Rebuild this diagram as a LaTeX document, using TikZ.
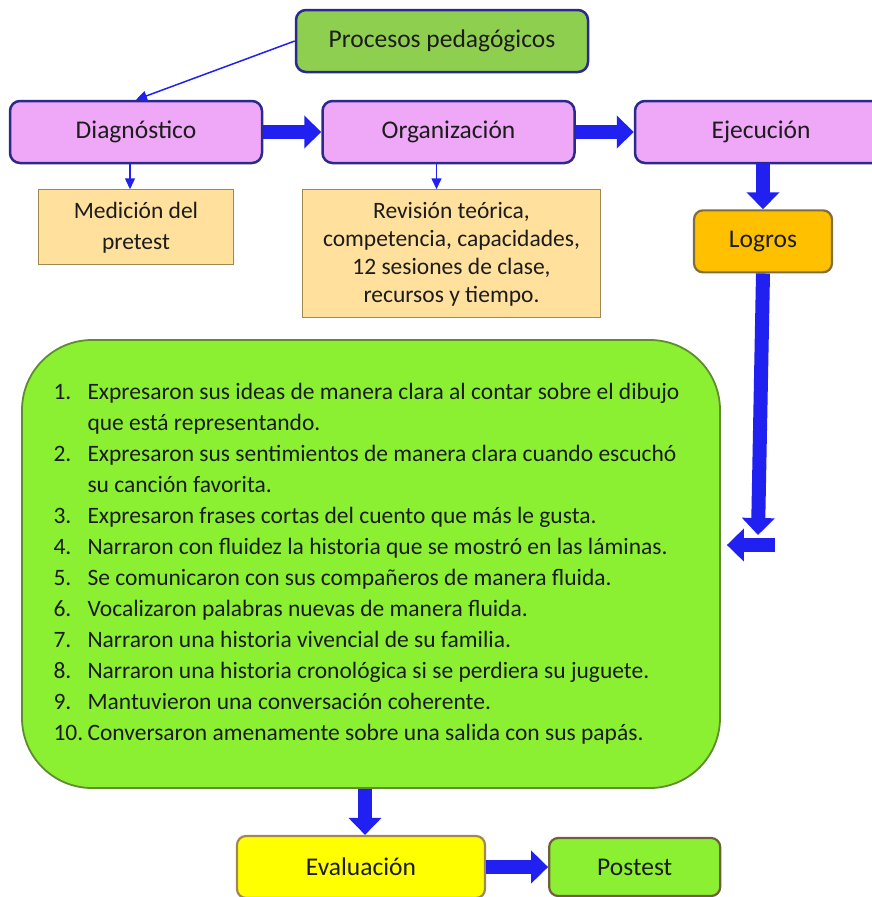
\documentclass[tikz,border=0pt]{standalone}
\usepackage{fontspec}
\setmainfont{Carlito}
\usepackage{tikz}
\usetikzlibrary{arrows.meta,positioning}
\usepackage{xcolor}

\definecolor{procfill}{HTML}{8FCF50}
\definecolor{navyline}{HTML}{2B2A8C}
\definecolor{pinkfill}{HTML}{EFA8F7}
\definecolor{peachfill}{HTML}{FFE09C}
\definecolor{oliveline}{HTML}{A08850}
\definecolor{orangefill}{HTML}{FFC000}
\definecolor{brightgreen}{HTML}{8CF032}
\definecolor{greenline}{HTML}{5E8C2E}
\definecolor{yellowfill}{HTML}{FFFF00}
\definecolor{arrblue}{HTML}{2020F0}
\definecolor{textdark}{HTML}{1C1C1C}

\begin{document}
\begin{tikzpicture}[
    x=1pt, y=-1pt,
    phase/.style={
      rectangle, rounded corners=10pt, draw=navyline, line width=2.5pt,
      fill=pinkfill, minimum width=252pt, minimum height=62pt,
      text=textdark, font=\fontsize{25.5}{30}\selectfont
    },
    note/.style={
      rectangle, draw=oliveline, line width=1.2pt, fill=peachfill,
      align=center, text=textdark, font=\fontsize{23.5}{28}\selectfont
    },
    result/.style={
      rectangle, rounded corners=9pt, draw=oliveline, line width=2.2pt,
      minimum height=62pt, text=textdark, font=\fontsize{25.5}{30}\selectfont
    },
    bigarr/.style={draw=arrblue, line width=14pt,
      -{Triangle[length=17pt,width=32pt]}},
    thinarr/.style={draw=arrblue, line width=1.5pt,
      -{Triangle[length=11pt,width=10pt]}}
  ]
  \useasboundingbox (0,0) rectangle (872,897);

  \node[rectangle, rounded corners=10pt, draw=navyline, line width=2.5pt,
        fill=procfill, minimum width=292pt, minimum height=62pt,
        text=textdark, font=\fontsize{25.5}{30}\selectfont]
    (proc) at (442,41) {Procesos pedagógicos};

  \node[phase] (diag) at (136,132) {Diagnóstico};
  \node[phase, right=58pt of diag] (org) {Organización};
  \node[phase, right=58pt of org] (ejec) {Ejecución};

  \node[note, minimum width=195pt, minimum height=75pt,
        font=\fontsize{23.5}{31}\selectfont,
        below=25pt of diag] (med) {Medición del\\pretest};
  \node[note, minimum width=298pt, minimum height=128pt,
        below=25pt of org, xshift=3pt] (rev)
    {Revisión teórica,\\competencia, capacidades,\\
     12 sesiones de clase,\\recursos y tiempo.};
  \node[result, fill=orangefill, draw=oliveline!80!black,
        minimum width=138pt, below=45pt of ejec, xshift=2pt] (logros) {Logros};

  \node[rectangle, rounded corners=70pt, draw=greenline, line width=1.8pt,
        fill=brightgreen, minimum width=698pt, minimum height=448pt,
        text=textdark, font=\fontsize{23.5}{31}\selectfont]
    (lista) at (371,564) {\hspace*{-9pt}%
    \begin{tabular}{@{}p{34pt}@{}l@{}}
      1. & Expresaron sus ideas de manera clara al contar sobre el dibujo\\
         & que está representando.\\
      2. & Expresaron sus sentimientos de manera clara cuando escuchó\\
         & su canción favorita.\\
      3. & Expresaron frases cortas del cuento que más le gusta.\\
      4. & Narraron con fluidez la historia que se mostró en las láminas.\\
      5. & Se comunicaron con sus compañeros de manera fluida.\\
      6. & Vocalizaron palabras nuevas de manera fluida.\\
      7. & Narraron una historia vivencial de su familia.\\
      8. & Narraron una historia cronológica si se perdiera su juguete.\\
      9. & Mantuvieron una conversación coherente.\\
      10.& Conversaron amenamente sobre una salida con sus papás.
    \end{tabular}};

  \node[result, fill=yellowfill, minimum width=248pt] (eval)
    at (361,867) {Evaluación};
  \node[result, fill=brightgreen, draw=oliveline!70!black,
        minimum width=171pt, minimum height=58pt,
        right=62pt of eval] (post) {Postest};

  \coordinate (bajada) at (758,535);
  \coordinate (giro) at (775,545);

  \draw[thinarr] (proc.west) -- (diag.north);
  \draw[thinarr] ([xshift=-6pt]diag.south) -- ([xshift=-6pt]diag.south |- med.north);
  \draw[thinarr] ([xshift=-12pt]org.south) -- ([xshift=-12pt]org.south |- rev.north);
  \draw[bigarr] (diag) -- (org);
  \draw[bigarr] (org) -- (ejec);
  \draw[bigarr] (ejec.south -| logros) -- (logros.north);
  \draw[bigarr] (logros.south) -- (bajada);
  \draw[bigarr, shorten >=6pt] (giro) -- (giro -| lista.east);
  \draw[bigarr] ([xshift=4pt]eval.north |- lista.south) -- ([xshift=4pt]eval.north);
  \draw[bigarr] (eval) -- (post);
\end{tikzpicture}
\end{document}
